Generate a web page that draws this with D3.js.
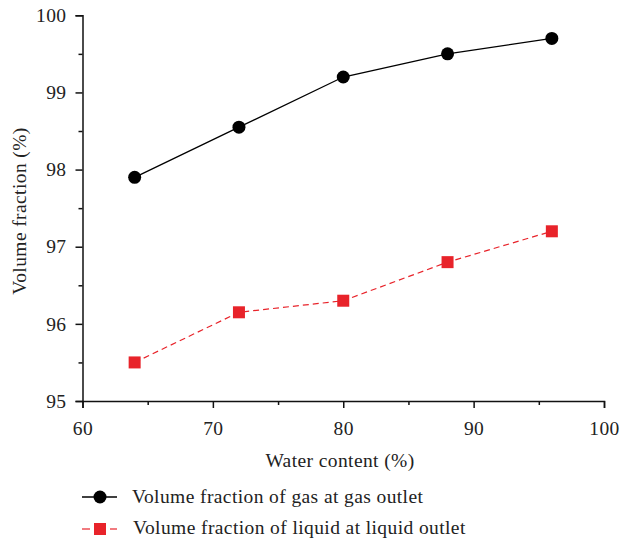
<!DOCTYPE html>
<html>
<head>
<meta charset="utf-8">
<script src="https://cdn.jsdelivr.net/npm/d3@7"></script>
<style>
body { margin: 0; background: #fff; }
text { font-family: "Liberation Serif", "DejaVu Serif", serif; fill: #222; letter-spacing: 0.4px; }
</style>
</head>
<body>
<script>
var w = 622;
var h = 539;

var waterContent = [64, 72, 80, 88, 96];
var gasFraction = [97.9, 98.55, 99.2, 99.5, 99.7];
var liquidFraction = [95.5, 96.15, 96.3, 96.8, 97.2];
var xTicks = [60, 70, 80, 90, 100];
var yTicks = [95, 96, 97, 98, 99, 100];
var seriesNames = ['Volume fraction of gas at gas outlet', 'Volume fraction of liquid at liquid outlet'];

var red = '#e8232a';
var fs = 19.5;

var svg = d3.select('body').append('svg')
    .attr('width', w)
    .attr('height', h);

var x = d3.scaleLinear().domain([60, 100]).range([82.5, 604]);
var y = d3.scaleLinear().domain([95, 100]).range([401, 15.3]);

// minor ticks halfway between the labelled ones
var xMinor = d3.range(65, 100, 10);
var yMinor = d3.range(95.5, 100, 1);

svg.append('g')
    .attr('transform', 'translate(0,401)')
    .call(d3.axisBottom(x).tickValues(xTicks).tickSize(7).tickPadding(13).tickFormat(d3.format('d')));
svg.append('g')
    .attr('transform', 'translate(0,401)')
    .call(d3.axisBottom(x).tickValues(xMinor).tickSize(4).tickFormat(''))
    .select('.domain').remove();

svg.append('g')
    .attr('transform', 'translate(82.5,0)')
    .call(d3.axisLeft(y).tickValues(yTicks).tickSize(7).tickPadding(9).tickFormat(d3.format('d')));
svg.append('g')
    .attr('transform', 'translate(82.5,0)')
    .call(d3.axisLeft(y).tickValues(yMinor).tickSize(4).tickFormat(''))
    .select('.domain').remove();

svg.selectAll('.domain').attr('stroke', '#111').attr('stroke-width', 1.5);
svg.selectAll('.tick line').attr('stroke', '#111').attr('stroke-width', 1.5);
svg.selectAll('.tick text').attr('font-size', fs).attr('fill', '#222')
    .style('font-family', '"Liberation Serif", "DejaVu Serif", serif');

svg.append('text')
    .attr('x', 340)
    .attr('y', 467)
    .attr('text-anchor', 'middle')
    .attr('font-size', fs)
    .text('Water content (%)');

svg.append('text')
    .attr('transform', 'translate(26,211) rotate(-90)')
    .attr('text-anchor', 'middle')
    .attr('font-size', fs)
    .text('Volume fraction (%)');

var line = d3.line()
    .x(function(d, i) { return x(waterContent[i]); })
    .y(function(d) { return y(d); });

svg.append('path')
    .datum(gasFraction)
    .attr('d', line)
    .attr('fill', 'none')
    .attr('stroke', '#000')
    .attr('stroke-width', 1.3);

svg.append('path')
    .datum(liquidFraction)
    .attr('d', line)
    .attr('fill', 'none')
    .attr('stroke', red)
    .attr('stroke-width', 1.2)
    .attr('stroke-dasharray', '6,4');

svg.selectAll('circle.gas')
    .data(gasFraction)
    .enter()
    .append('circle')
    .attr('class', 'gas')
    .attr('cx', function(d, i) { return x(waterContent[i]); })
    .attr('cy', function(d) { return y(d); })
    .attr('r', 6.5)
    .attr('fill', '#000');

svg.selectAll('rect.liq')
    .data(liquidFraction)
    .enter()
    .append('rect')
    .attr('class', 'liq')
    .attr('x', function(d, i) { return x(waterContent[i]) - 6; })
    .attr('y', function(d) { return y(d) - 6; })
    .attr('width', 12)
    .attr('height', 12)
    .attr('fill', red);

// legend
var lg = svg.append('g');
lg.append('line').attr('x1', 82).attr('x2', 117).attr('y1', 497).attr('y2', 497)
    .attr('stroke', '#000').attr('stroke-width', 1.3);
lg.append('circle').attr('cx', 100).attr('cy', 497).attr('r', 6.5).attr('fill', '#000');
lg.append('text').attr('x', 132).attr('y', 503).attr('font-size', fs).text(seriesNames[0]);

lg.append('line').attr('x1', 82).attr('x2', 90).attr('y1', 529).attr('y2', 529)
    .attr('stroke', red).attr('stroke-width', 1.2);
lg.append('line').attr('x1', 110).attr('x2', 117).attr('y1', 529).attr('y2', 529)
    .attr('stroke', red).attr('stroke-width', 1.2);
lg.append('rect').attr('x', 94).attr('y', 523).attr('width', 12).attr('height', 12).attr('fill', red);
lg.append('text').attr('x', 133).attr('y', 534).attr('font-size', fs).text(seriesNames[1]);
</script>
</body>
</html>
